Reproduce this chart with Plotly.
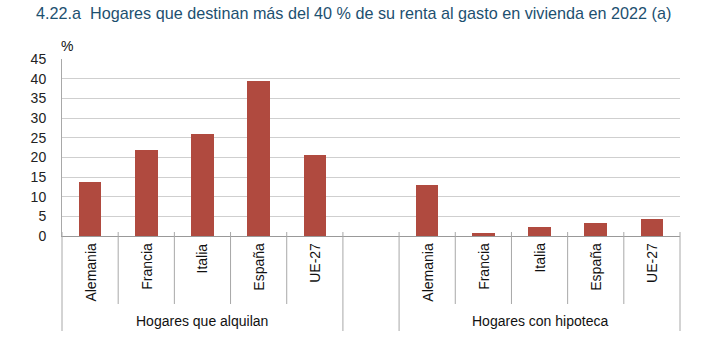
import plotly.graph_objects as go

# ---- data ----
grupos = ["Hogares que alquilan", "Hogares con hipoteca"]
paises = ["Alemania", "Francia", "Italia", "España", "UE-27"]
alquilan = [13.7, 21.9, 25.9, 39.4, 20.7]
hipoteca = [13.0, 0.7, 2.2, 3.3, 4.3]
y_ticks = [0, 5, 10, 15, 20, 25, 30, 35, 40, 45]

W, H = 726, 363
L, R, T, B = 62, 46, 59, 127
plot_w = W - L - R
plot_h = H - T - B

n = len(paises)
n_slots = 2 * n + 1
x_alq = [i + 0.5 for i in range(n)]
x_hip = [n + 1 + i + 0.5 for i in range(n)]

bar_color = "#B04A3F"
grid_color = "#cfcfcf"
sep_color = "#a8a8a8"
font_fam = "Liberation Sans, Arial, sans-serif"

fig = go.Figure()
fig.add_trace(go.Bar(x=x_alq, y=alquilan, width=0.4, marker_color=bar_color,
                     marker_line_width=0, showlegend=False))
fig.add_trace(go.Bar(x=x_hip, y=hipoteca, width=0.4, marker_color=bar_color,
                     marker_line_width=0, showlegend=False))

def py(pix):  # pixel y -> paper y
    return (H - B - pix) / plot_h

shapes = []
annotations = []
# category separator ticks
short_bottom = py(304)
long_bottom = py(331)
top = py(232)
for k in range(n_slots + 1):
    xp = k / n_slots
    long = k in (0, n, n + 1, n_slots)
    shapes.append(dict(type="line", xref="paper", yref="paper", x0=xp, x1=xp,
                       y0=top, y1=long_bottom if long else short_bottom,
                       line=dict(color=sep_color, width=1)))

# category labels
for xs in (x_alq, x_hip):
    for xv, name in zip(xs, paises):
        annotations.append(dict(x=xv / n_slots, y=py(241), xref="paper", yref="paper",
                                text=name, textangle=-90, showarrow=False,
                                xanchor="center", yanchor="top",
                                font=dict(size=14, color="#111", family=font_fam)))
# group labels
for gi, g in enumerate(grupos):
    start = 0 if gi == 0 else n + 1
    cx = (start + n / 2) / n_slots
    annotations.append(dict(x=cx, y=py(321), xref="paper", yref="paper", text=g,
                            showarrow=False, xanchor="center", yanchor="middle",
                            font=dict(size=14, color="#111", family=font_fam)))
# percent sign
annotations.append(dict(x=(67 - L) / plot_w, y=py(46), xref="paper", yref="paper",
                        text="%", showarrow=False, xanchor="center", yanchor="middle",
                        font=dict(size=14, color="#111", family=font_fam)))

fig.update_layout(
    width=W, height=H,
    margin=dict(l=L, r=R, t=T, b=B),
    paper_bgcolor="white", plot_bgcolor="white",
    title=dict(text="4.22.a  Hogares que destinan más del 40 % de su renta al gasto en vivienda en 2022 (a)",
               x=36 / W, xref="container", xanchor="left",
               y=1 - 13 / H, yref="container", yanchor="middle",
               font=dict(size=16.2, color="#1d5070", family=font_fam)),
    xaxis=dict(range=[0, n_slots], showticklabels=False, showgrid=False,
               zeroline=False, showline=True, linecolor="#999", linewidth=1,
               ticks="", fixedrange=True),
    yaxis=dict(range=[0, 45], tickvals=y_ticks, showgrid=True, gridcolor=grid_color,
               gridwidth=1, zeroline=False, showline=True, linecolor=sep_color,
               linewidth=1, ticks="", ticklabelstandoff=12,
               tickfont=dict(size=14, color="#222", family=font_fam)),
    shapes=shapes,
    annotations=annotations,
    bargap=0,
)

fig.write_html("out.html", config={"displayModeBar": False},
               post_script="document.body.style.margin='0';document.body.style.padding='0';")
